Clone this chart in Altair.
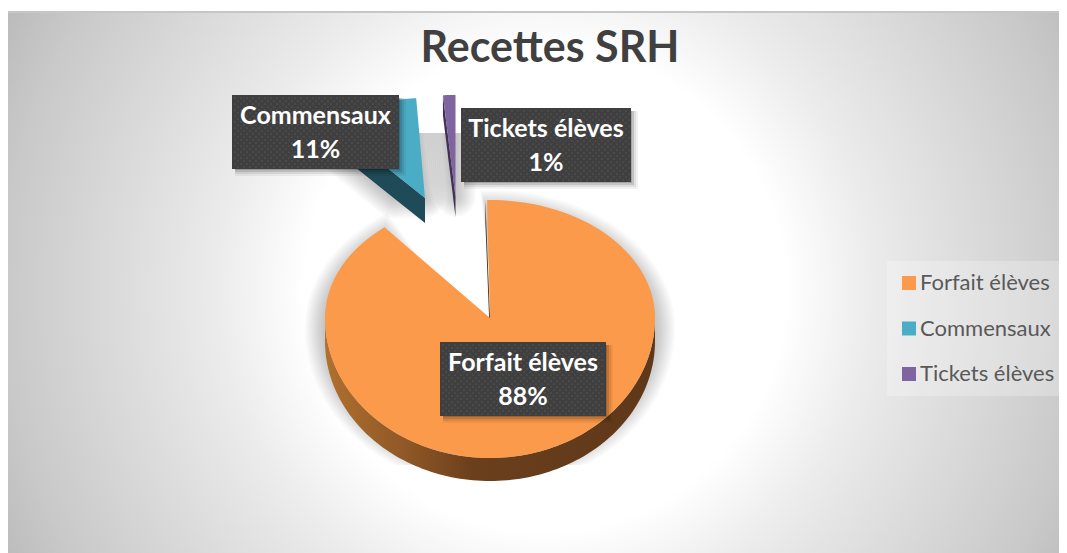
import math
import altair as alt

categories = ["Forfait élèves", "Commensaux", "Tickets élèves"]
shares = [88.4, 10.6, 1.0]
percent_labels = ["88%", "11%", "1%"]
colors = ["#fb9a4a", "#4bacc6", "#8064a2"]
dark_colors = ["#643a1a", "#1f4a58", "#403152"]

W, H = 1051, 545
BIG = dict(c=(490, 318), rx=165, up=118, dn=140)
MID = dict(c=(425, 198), rx=140, up=100, dn=100)
SMALL = dict(c=(455.5, 197), rx=200, up=102, dn=102)
START = -1.0
NOTCH_SHIFT = 3.0  # apparent angle shift caused by the 3D perspective
DEPTH_BIG, DEPTH_MID, DEPTH_SMALL = 23, 25, 20

a1 = START + shares[0] * 3.6 + NOTCH_SHIFT
a_mid0 = shares[0] * 3.6
a_mid1 = a_mid0 + shares[1] * 3.6
a_end = a_mid1 + shares[2] * 3.6


def pt(g, deg, grow=0):
    t = math.radians(deg)
    c = math.cos(t)
    r = (g["up"] if c > 0 else g["dn"]) + grow
    return (g["c"][0] + (g["rx"] + grow) * math.sin(t), g["c"][1] - r * c)


def arc(g, a, b, grow=0, n=120):
    return [pt(g, a + (b - a) * i / n, grow) for i in range(n + 1)]


def seg(p, q, n=20):
    return [(p[0] + (q[0] - p[0]) * i / n, p[1] + (q[1] - p[1]) * i / n) for i in range(n + 1)]


def wedge(g, a, b):
    return [g["c"]] + arc(g, a, b)


def shift(pts, dy):
    return [(x, y + dy) for x, y in pts]


def feature(pts, series=""):
    ring = [[round(x, 2), round(y, 2)] for x, y in pts]
    if ring[0] != ring[-1]:
        ring.append(ring[0])
    return {"type": "Feature", "properties": {"series": series},
            "geometry": {"type": "Polygon", "coordinates": [ring]}}


def hull(points):
    pts = sorted(set(points))

    def half(seq):
        out = []
        for p in seq:
            while len(out) > 1 and (out[-1][0] - out[-2][0]) * (p[1] - out[-2][1]) - (out[-1][1] - out[-2][1]) * (p[0] - out[-2][0]) <= 0:
                out.pop()
            out.append(p)
        return out[:-1]
    return half(pts) + half(pts[::-1])


def dense(poly):
    res = []
    for i in range(len(poly)):
        res += seg(poly[i], poly[(i + 1) % len(poly)], 12)
    return res


def clamp(pts, lo=133, hi=465):
    return [(x, min(hi, max(lo, y))) for x, y in pts]


def shape(pts_list, **mark):
    mark.setdefault("strokeWidth", 0)
    return alt.Chart(alt.Data(values=[feature(p) for p in pts_list])).mark_geoshape(**mark).project(
        type="identity", scale=1, translate=[-8, -8])


def one():
    return alt.Chart(alt.Data(values=[{"a": 1}]))


layers = []

# frame: a square rectangle makes the radial gradient circular; the SVG edge cuts it
bg = alt.RadialGradient(gradient="radial", x1=0.5, y1=0.5, r1=0, x2=0.5, y2=0.5, r2=0.5, stops=[
    alt.GradientStop(offset=0, color="#ffffff"),
    alt.GradientStop(offset=0.397, color="#ffffff"),
    alt.GradientStop(offset=0.53, color="#ededed"),
    alt.GradientStop(offset=0.595, color="#e6e6e6"),
    alt.GradientStop(offset=0.893, color="#c9c9c9"),
    alt.GradientStop(offset=1, color="#bbbbbb")])
layers.append(one().mark_rect(fill=bg).encode(
    x=alt.value(537 - 605), x2=alt.value(537 + 605), y=alt.value(282 - 605), y2=alt.value(282 + 605)))
layers.append(one().mark_rect(fill="#ffffff").encode(
    x=alt.value(-10), x2=alt.value(W + 10), y=alt.value(-10), y2=alt.value(3)))
layers.append(one().mark_rect(fill="#c6c6c6").encode(
    x=alt.value(0), x2=alt.value(W), y=alt.value(3), y2=alt.value(5)))

# title
layers.append(alt.Chart(alt.Data(values=[{"t": "Recettes SRH"}])).mark_text(
    font="Lato", fontWeight="bold", fontSize=43, color="#404040", align="center", baseline="alphabetic"
).encode(text="t:N", x=alt.value(542), y=alt.value(54)))

# soft shadows, cut by the plot's hidden rectangle
for e in [2, 4, 6, 8, 10, 12, 14, 16, 18, 20]:
    big = arc(BIG, START - 0.1 * e, a1 + 0.3 * e, grow=e)
    big_poly = shift([(BIG["c"][0] + 0.5 * e, BIG["c"][1] + 2 * e)] + big, 10)
    layers.append(shape([clamp(big_poly)], fill="#000000", fillOpacity=0.024))
    for g, a, b, d in [(MID, a_mid0, a_mid1, DEPTH_MID), (SMALL, a_mid1, a_end, DEPTH_SMALL)]:
        w = wedge(g, a, b)
        sil = dense(w) + dense(shift(w, d))
        circ = [(x + e * math.cos(k * math.pi / 8), y + e * math.sin(k * math.pi / 8))
                for x, y in sil[::6] for k in range(16)]
        layers.append(shape([clamp(dense(hull(circ)))], fill="#000000", fillOpacity=0.022))

# 3D side of the big slice
side = arc(BIG, 90, 270) + shift(arc(BIG, 270, 90), DEPTH_BIG)
side_grad = alt.LinearGradient(gradient="linear", x1=0, x2=1, y1=0, y2=0, stops=[
    alt.GradientStop(offset=0, color="#b0702f"),
    alt.GradientStop(offset=0.25, color="#8e5726"),
    alt.GradientStop(offset=0.45, color="#6b3f1c"),
    alt.GradientStop(offset=1, color="#5e381a")])
layers.append(shape([side], fill=side_grad))
p0 = pt(BIG, START - 0.6)
layers.append(shape([[BIG["c"], p0, (p0[0], p0[1] + DEPTH_BIG), (BIG["c"][0], BIG["c"][1] + DEPTH_BIG)]],
                    fill="#4a2c14"))

# radial faces of the exploded slices
mo = pt(MID, a_mid0)
layers.append(shape([[MID["c"], mo, (mo[0], mo[1] + DEPTH_MID), (MID["c"][0], MID["c"][1] + DEPTH_MID)]],
                    fill=dark_colors[1]))
so = pt(SMALL, a_mid1)
layers.append(shape([[SMALL["c"], so, (so[0], so[1] + DEPTH_SMALL), (SMALL["c"][0], SMALL["c"][1] + DEPTH_SMALL)]],
                    fill=dark_colors[2]))

# top surfaces, which also carry the legend
tops = [wedge(BIG, START, a1), wedge(MID, a_mid0, a_mid1), wedge(SMALL, a_mid1, a_end)]
top_feats = [feature(p, s) for p, s in zip(tops, categories)]
legend = alt.Legend(orient="none", legendX=879, legendY=253, title=None, symbolType="square",
                    symbolSize=196, symbolStrokeWidth=0, labelFont="Lato", labelFontSize=22,
                    labelColor="#595959", rowPadding=23.5, labelOffset=0, padding=11,
                    fillColor="#ffffff40", labelLimit=200)
layers.append(alt.Chart(alt.Data(values=top_feats)).mark_geoshape(strokeWidth=0).encode(
    color=alt.Color("properties.series:N",
                    scale=alt.Scale(domain=categories, range=colors),
                    sort=categories, legend=legend)
).project(type="identity", scale=1, translate=[-8, -8]))

# data labels
boxes = [(440, 342, 606, 416), (232, 95, 399, 169), (461, 108, 631, 182)]
for name, pct, (x0, y0, x1, y1) in zip(categories, percent_labels, boxes):
    for e, op in [(1, 0.16), (3, 0.12), (5, 0.08), (7, 0.05)]:
        layers.append(one().mark_rect(fill="#000000", fillOpacity=op).encode(
            x=alt.value(x0 - 8 + 3), x2=alt.value(x1 - 8 + e), y=alt.value(y0 - 8 + 3), y2=alt.value(y1 - 8 + e)))
    layers.append(one().mark_rect(fill="#3f3f3f").encode(
        x=alt.value(x0 - 8), x2=alt.value(x1 - 8), y=alt.value(y0 - 8), y2=alt.value(y1 - 8)))
    dots = []
    row = 0
    y = y0 + 3
    while y < y1 - 1:
        x = x0 + 3 + (3 if row % 2 else 0)
        while x < x1 - 1:
            dots.append({"x": x, "y": y})
            x += 6
        y += 3
        row += 1
    layers.append(alt.Chart(alt.Data(values=dots)).mark_circle(size=3, color="#555555", opacity=1).encode(
        longitude="x:Q", latitude="y:Q").project(type="identity", scale=1, translate=[-8, -8]))
    cx = (x0 + x1) / 2 - 8
    for txt, dy in [(name, 21), (pct, 55)]:
        layers.append(alt.Chart(alt.Data(values=[{"t": txt}])).mark_text(
            font="Lato", fontWeight="bold", fontSize=25, color="#ffffff", baseline="middle", align="center"
        ).encode(text="t:N", x=alt.value(cx), y=alt.value(y0 - 8 + dy)))

chart = alt.layer(*layers).properties(
    width=W, height=H, padding=0,
    autosize=alt.AutoSizeParams(type="none"),
).configure_view(stroke=None)

chart.save("out.html", embed_options={"renderer": "svg", "actions": False})
